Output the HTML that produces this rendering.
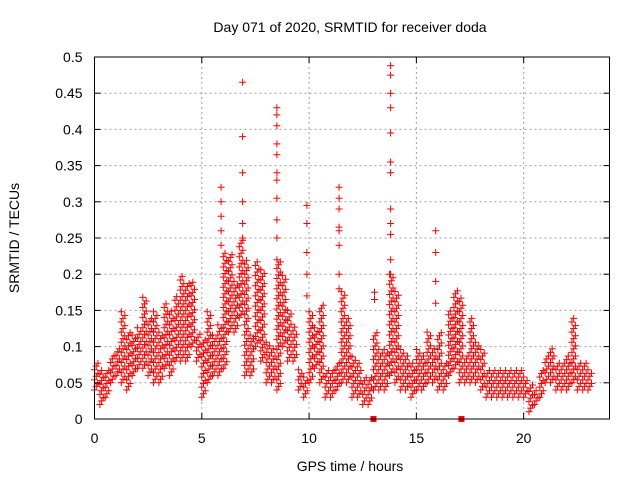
<!DOCTYPE html>
<html><head><meta charset="utf-8"><style>
body{margin:0;background:#fff}
svg text{font-family:"Liberation Sans",sans-serif;fill:#000}
</style></head><body>
<svg id="chart" width="640" height="480" xmlns="http://www.w3.org/2000/svg">
<rect width="640" height="480" fill="#fff"/>
<text x="350" y="32" font-size="14" text-anchor="middle">Day 071 of 2020, SRMTID for receiver doda</text>
<text transform="translate(19,238) rotate(-90)" font-size="14" text-anchor="middle">SRMTID / TECUs</text>
<text x="350" y="471" font-size="14" text-anchor="middle">GPS time / hours</text>
<g id="grid"></g><g id="marks"></g><g id="axes"></g>
</svg>
<script>
const xTicks=[0,5,10,15,20];
const yTicks=[0,0.05,0.1,0.15,0.2,0.25,0.3,0.35,0.4,0.45,0.5];
const yTickLabels=["0","0.05","0.1","0.15","0.2","0.25","0.3","0.35","0.4","0.45","0.5"];
const colTimes=[0,0.25,0.5,0.75,1,1.25,1.5,1.75,2,2.25,2.5,2.75,3,3.25,3.5,3.75,4,4.25,4.5,4.75,5,5.25,5.5,5.75,6,6.25,6.5,6.75,7,7.25,7.5,7.75,8,8.25,8.5,8.75,9,9.25,9.5,9.75,10,10.25,10.5,10.75,11,11.25,11.5,11.75,12,12.25,12.5,12.75,13,13.25,13.5,13.75,14,14.25,14.5,14.75,15,15.25,15.5,15.75,16,16.25,16.5,16.75,17,17.25,17.5,17.75,18,18.25,18.5,18.75,19,19.25,19.5,19.75,20,20.25,20.5,20.75,21,21.25,21.5,21.75,22,22.25,22.5,22.75,23];
const colLow=[0.04,0.02,0.03,0.05,0.06,0.05,0.04,0.06,0.07,0.07,0.06,0.05,0.05,0.07,0.06,0.08,0.08,0.08,0.10,0.08,0.03,0.05,0.06,0.06,0.07,0.12,0.12,0.14,0.06,0.06,0.10,0.08,0.05,0.05,0.04,0.10,0.08,0.08,0.04,0.03,0.05,0.07,0.05,0.03,0.03,0.04,0.05,0.05,0.03,0.03,0.02,0.02,0.04,0.04,0.04,0.06,0.05,0.04,0.04,0.03,0.04,0.04,0.05,0.05,0.04,0.04,0.06,0.07,0.05,0.05,0.05,0.05,0.04,0.03,0.03,0.03,0.03,0.03,0.03,0.03,0.03,0.01,0.02,0.03,0.05,0.05,0.04,0.04,0.04,0.05,0.04,0.04,0.04];
const colHigh=[0.08,0.07,0.07,0.09,0.10,0.15,0.12,0.12,0.13,0.17,0.14,0.15,0.12,0.16,0.15,0.17,0.20,0.19,0.19,0.12,0.11,0.15,0.12,0.13,0.23,0.23,0.19,0.25,0.22,0.12,0.22,0.21,0.11,0.10,0.22,0.20,0.15,0.13,0.07,0.06,0.15,0.13,0.16,0.07,0.07,0.08,0.18,0.14,0.09,0.08,0.06,0.06,0.12,0.10,0.10,0.20,0.18,0.10,0.09,0.08,0.10,0.09,0.12,0.10,0.12,0.08,0.15,0.18,0.17,0.09,0.14,0.11,0.10,0.07,0.07,0.07,0.07,0.07,0.07,0.07,0.06,0.05,0.04,0.07,0.09,0.10,0.08,0.08,0.09,0.14,0.08,0.08,0.07];
const spikeTimes=[5.9,6.9,8.5,9.9,11.4,13.8,15.9,13.05];
const spikeValues=[[0.32,0.30,0.28,0.26,0.24],[0.465,0.39,0.34,0.30,0.27,0.25],[0.43,0.42,0.405,0.38,0.365,0.34,0.33,0.305,0.275,0.25,0.22],[0.295,0.27,0.23,0.20,0.17],[0.32,0.305,0.29,0.265,0.26,0.24,0.20,0.18],[0.488,0.475,0.45,0.43,0.395,0.355,0.34,0.29,0.27,0.255,0.22,0.20],[0.26,0.23,0.19,0.16],[0.175,0.165]];
const flagTimes=[13.0,17.1];
const X0=94.5,X1=609.5,Y0=419,Y1=57,XMAX=24,YMAX=0.5;
const xs=t=>X0+(X1-X0)*t/XMAX, ys=v=>Y0-(Y0-Y1)*v/YMAX;
const NS="http://www.w3.org/2000/svg";
function mk(tag,at,parent){const e=document.createElementNS(NS,tag);for(const k in at)e.setAttribute(k,at[k]);parent.appendChild(e);return e;}
const grid=document.getElementById('grid'),marks=document.getElementById('marks'),axes=document.getElementById('axes');
xTicks.forEach((t,i)=>{const x=xs(t);
 if(t>0){const g=mk('line',{x1:x,y1:Y0,x2:x,y2:Y1,stroke:'#a0a0a0','stroke-dasharray':'2,3'},grid);
 
 }
 const l=mk('text',{x:x,y:Y0+24,'font-size':14,'text-anchor':'middle'},axes);l.textContent=t;
 
 
 mk('line',{x1:x,y1:Y0,x2:x,y2:Y0-6,stroke:'#000'},axes);mk('line',{x1:x,y1:Y1,x2:x,y2:Y1+6,stroke:'#000'},axes);});
yTicks.forEach((v,i)=>{const y=ys(v);
 if(v>0&&v<YMAX){const g=mk('line',{x1:X0,y1:y,x2:X1,y2:y,stroke:'#a0a0a0','stroke-dasharray':'2,3'},grid);
 
 }
 const l=mk('text',{x:X0-12,y:y+5,'font-size':14,'text-anchor':'end'},axes);l.textContent=yTickLabels[i];
 
 
 mk('line',{x1:X0,y1:y,x2:X0+6,y2:y,stroke:'#000'},axes);mk('line',{x1:X1,y1:y,x2:X1-6,y2:y,stroke:'#000'},axes);});
const frame=mk('rect',{x:X0,y:Y1,width:X1-X0,height:Y0-Y1,fill:'none',stroke:'#000'},axes);


let d='';
function plus(t,v){const x=xs(t),y=ys(v);d+=`M${(x-3.5).toFixed(1)} ${y.toFixed(1)}h7M${x.toFixed(1)} ${(y-3.5).toFixed(1)}v7`;}
const subDt=[0,0.08,0.16],subOff=[0,0.005,0.009];
colTimes.forEach((t,i)=>{subDt.forEach((dt,k)=>{for(let v=colLow[i]+subOff[k];v<=colHigh[i]+1e-9;v+=0.014)plus(t+dt,v);});});
spikeTimes.forEach((t,i)=>spikeValues[i].forEach(v=>plus(t,v)));
const p=mk('path',{d:d,stroke:'#f00','stroke-width':1,fill:'none'},marks);


flagTimes.forEach(t=>{const r=mk('rect',{x:xs(t)-3,y:Y0-3,width:6,height:6,fill:'#f00'},marks);
 
 });
</script>
</body></html>
